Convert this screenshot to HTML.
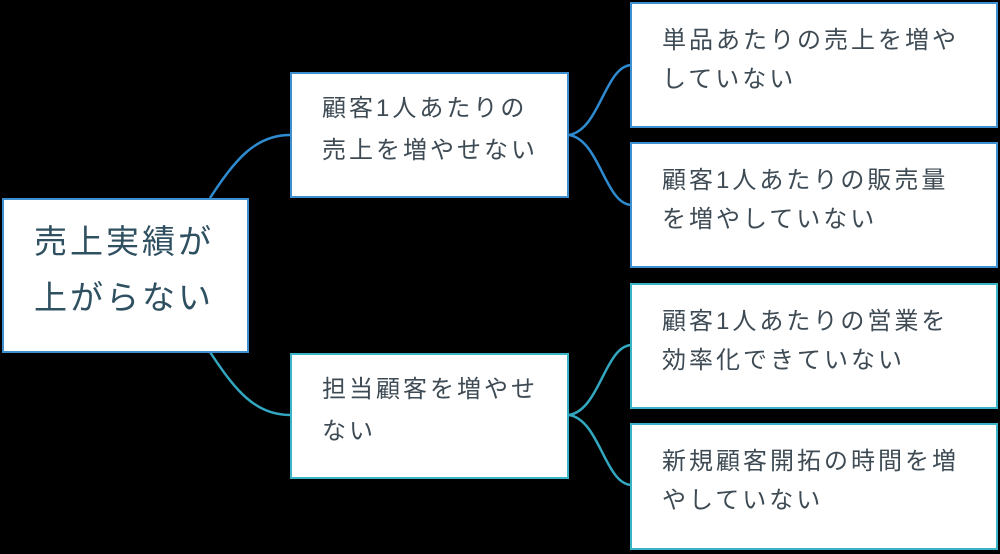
<!DOCTYPE html>
<html><head><meta charset="utf-8"><style>
body{margin:0;width:1000px;height:554px;background:#000;position:relative;overflow:hidden;font-family:"Liberation Sans","Noto Sans CJK JP",sans-serif;}
.b{position:absolute;background:#fff;box-sizing:border-box;border:2px solid #3d8fd0;color:#3e4b54;font-size:24px;letter-spacing:3px;line-height:39px;white-space:nowrap;}
.t{border-color:#3bb3c6;}
svg{position:absolute;left:0;top:0}
</style></head><body>
<svg width="1000" height="554">
<g fill="none" stroke-width="2.5">
<path d="M210 198 C235 160 255 135 290 135" stroke="#2f8bd0"/>
<path d="M210 352 C235 390 255 415 290 415" stroke="#33a7bf"/>
<path d="M569 135 C600 130 605 65 632 65 M569 135 C600 140 605 205 632 205" stroke="#2f8bd0"/>
<path d="M569 415 C600 410 605 345 632 345 M569 415 C600 420 605 485 632 485" stroke="#33a7bf"/>
</g></svg>
<div class="b" style="left:2px;top:198px;width:247px;height:155px;padding:14px 0 0 30px;font-size:33px;letter-spacing:3px;line-height:56px;color:#2f5060">売上実績が<br>上がらない</div>
<div class="b" style="left:290px;top:72px;width:279px;height:126px;padding:14px 0 0 30px;line-height:42px">顧客1人あたりの<br>売上を増やせない</div>
<div class="b t" style="left:290px;top:353px;width:279px;height:126px;padding:14px 0 0 30px;line-height:42px">担当顧客を増やせ<br>ない</div>
<div class="b" style="left:630px;top:2px;width:368px;height:126px;padding:17px 0 0 30px">単品あたりの売上を増や<br>していない</div>
<div class="b" style="left:630px;top:142px;width:368px;height:126px;padding:17px 0 0 30px">顧客1人あたりの販売量<br>を増やしていない</div>
<div class="b t" style="left:630px;top:283px;width:368px;height:126px;padding:17px 0 0 30px">顧客1人あたりの営業を<br>効率化できていない</div>
<div class="b t" style="left:630px;top:423px;width:368px;height:127px;padding:17px 0 0 30px">新規顧客開拓の時間を増<br>やしていない</div>
</body></html>
